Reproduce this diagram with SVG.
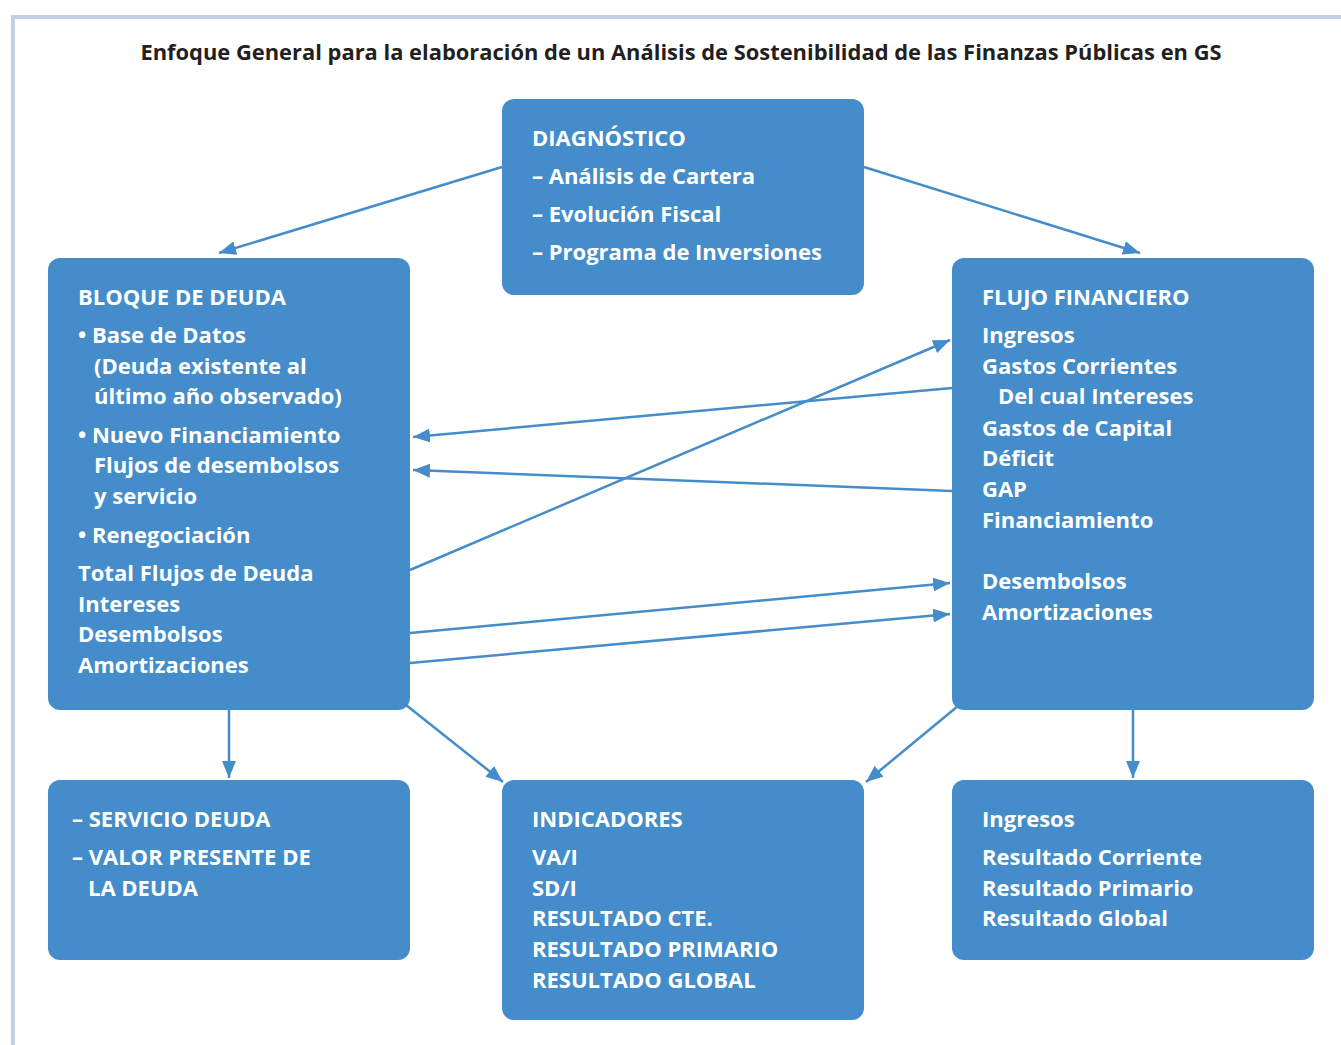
<svg xmlns="http://www.w3.org/2000/svg" width="1341" height="1045" viewBox="0 0 1341 1045">
<style>
.box{fill:#448dca}
.t{font-family:"Open Sans","Noto Sans","Liberation Sans",sans-serif;font-weight:700;font-size:22px;fill:#ffffff}
.title{font-family:"Open Sans","Noto Sans","Liberation Sans",sans-serif;font-weight:700;font-size:21.9px;fill:#231f20}
.c{stroke:#448dca;stroke-width:2.5;fill:none;marker-end:url(#ah)}
</style>
<defs>
<marker id="ah" markerUnits="userSpaceOnUse" markerWidth="18" markerHeight="14" refX="17" refY="7" orient="auto">
<path d="M0,0 L17,7 L0,14 z" fill="#448dca"/>
</marker>
</defs>
<rect width="1341" height="1045" fill="#ffffff"/>
<path d="M13,1045 L13,17 L1341,17" stroke="#c2cfe6" stroke-width="4" fill="none"/>
<text class="title" x="681" y="60" text-anchor="middle">Enfoque General para la elaboración de un Análisis de Sostenibilidad de las Finanzas Públicas en GS</text>

<g id="connectors">
<line class="c" x1="502" y1="167" x2="219" y2="253"/>
<line class="c" x1="864" y1="167" x2="1140" y2="253"/>
<line class="c" x1="952" y1="388" x2="413" y2="437"/>
<line class="c" x1="952" y1="491" x2="413" y2="470"/>
<line class="c" x1="410" y1="570" x2="950" y2="340"/>
<line class="c" x1="410" y1="633" x2="950" y2="583"/>
<line class="c" x1="410" y1="663" x2="950" y2="614"/>
<line class="c" x1="229" y1="710" x2="229" y2="778"/>
<line class="c" x1="406" y1="705" x2="503" y2="782"/>
<line class="c" x1="958" y1="706" x2="866" y2="782"/>
<line class="c" x1="1133" y1="710" x2="1133" y2="778"/>
</g>

<g id="diagnostico">
<rect class="box" x="502" y="99" width="362" height="196" rx="12"/>
<text class="t" x="532" y="146">DIAGNÓSTICO</text>
<text class="t" x="532" y="184">– Análisis de Cartera</text>
<text class="t" x="532" y="222">– Evolución Fiscal</text>
<text class="t" x="532" y="260">– Programa de Inversiones</text>
</g>

<g id="bloque-deuda">
<rect class="box" x="48" y="258" width="362" height="452" rx="12"/>
<text class="t" x="78" y="305">BLOQUE DE DEUDA</text>
<text class="t" x="78" y="343">• Base de Datos</text>
<text class="t" x="94" y="374">(Deuda existente al</text>
<text class="t" x="94" y="404">último año observado)</text>
<text class="t" x="78" y="443">• Nuevo Financiamiento</text>
<text class="t" x="94" y="473">Flujos de desembolsos</text>
<text class="t" x="94" y="504">y servicio</text>
<text class="t" x="78" y="543">• Renegociación</text>
<text class="t" x="78" y="581">Total Flujos de Deuda</text>
<text class="t" x="78" y="612">Intereses</text>
<text class="t" x="78" y="642">Desembolsos</text>
<text class="t" x="78" y="673">Amortizaciones</text>
</g>

<g id="flujo-financiero">
<rect class="box" x="952" y="258" width="362" height="452" rx="12"/>
<text class="t" x="982" y="305">FLUJO FINANCIERO</text>
<text class="t" x="982" y="343">Ingresos</text>
<text class="t" x="982" y="374">Gastos Corrientes</text>
<text class="t" x="998" y="404">Del cual Intereses</text>
<text class="t" x="982" y="436">Gastos de Capital</text>
<text class="t" x="982" y="466">Déficit</text>
<text class="t" x="982" y="497">GAP</text>
<text class="t" x="982" y="528">Financiamiento</text>
<text class="t" x="982" y="589">Desembolsos</text>
<text class="t" x="982" y="620">Amortizaciones</text>
</g>

<g id="servicio-deuda">
<rect class="box" x="48" y="780" width="362" height="180" rx="12"/>
<text class="t" x="72" y="827">– SERVICIO DEUDA</text>
<text class="t" x="72" y="865">– VALOR PRESENTE DE</text>
<text class="t" x="88" y="896">LA DEUDA</text>
</g>

<g id="indicadores">
<rect class="box" x="502" y="780" width="362" height="240" rx="12"/>
<text class="t" x="532" y="827">INDICADORES</text>
<text class="t" x="532" y="865">VA/I</text>
<text class="t" x="532" y="896">SD/I</text>
<text class="t" x="532" y="926">RESULTADO CTE.</text>
<text class="t" x="532" y="957">RESULTADO PRIMARIO</text>
<text class="t" x="532" y="988">RESULTADO GLOBAL</text>
</g>

<g id="resultados">
<rect class="box" x="952" y="780" width="362" height="180" rx="12"/>
<text class="t" x="982" y="827">Ingresos</text>
<text class="t" x="982" y="865">Resultado Corriente</text>
<text class="t" x="982" y="896">Resultado Primario</text>
<text class="t" x="982" y="926">Resultado Global</text>
</g>
</svg>
